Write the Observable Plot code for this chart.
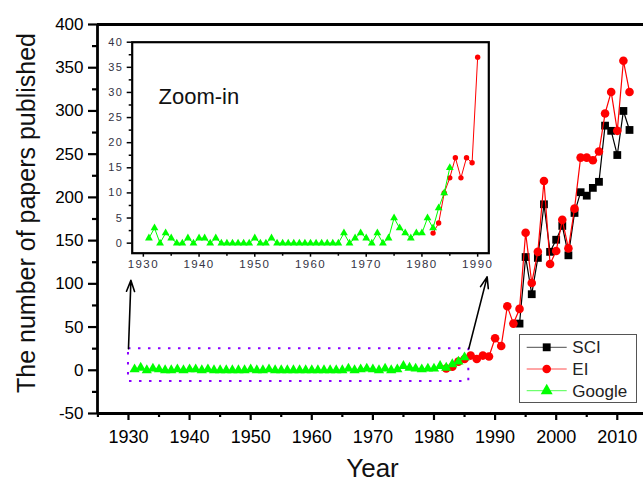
<!DOCTYPE html>
<html><head><meta charset="utf-8">
<script src="https://cdn.jsdelivr.net/npm/d3@7"></script>
<script src="https://cdn.jsdelivr.net/npm/@observablehq/plot@0.6"></script>
<style>
html,body{margin:0;padding:0;background:#fff;overflow:hidden;}
#wrap{position:relative;width:643px;height:483px;overflow:hidden;font-family:"Liberation Sans",Arial,sans-serif;background:#fff;}
#main,#inset,#legend{position:absolute;}
#main{left:0;top:0;}
#inset{left:100px;top:20px;}
#inset text{letter-spacing:1.4px;}
#legend{left:519px;top:334px;}
</style></head><body>
<div id="wrap"><div id="main"></div><div id="inset"></div><div id="legend"></div></div>
<script>
// ---- data ----
const googleStart = 1931;
const googleValues = [1,3,0,2,1,0,0,1,0,1, 1,0,1,0,0,0,0,0,0,1, 0,0,1,0,0,0,0,0,0,0, 0,0,0,0,0,2,0,1,2,1, 0,2,0,1,5,3,2,1,2,2, 5,3,7,10,15];
const eiStart = 1982;
const eiValues = [2,4,10,13,17,13,17,16, 37,28,74,54,71,159,101,137,219,123, 138,174,141,187,246,246,243,253,297,322, 277,358,322];
const sciStart = 1994;
const sciValues = [54,131,88,130,192,137, 151,167,133,182,206,202,211,218,283,277, 249,300,278];
const seriesNames = ["SCI","EI","Google"];
const mainXTicks = [1930,1940,1950,1960,1970,1980,1990,2000,2010];
const mainXMinor = [1925,1935,1945,1955,1965,1975,1985,1995,2005];
const mainYTicks = [-50,0,50,100,150,200,250,300,350,400];
const mainYMinor = [-25,25,75,125,175,225,275,325,375];
const insetXTicks = [1930,1940,1950,1960,1970,1980,1990];
const insetXMinor = [1935,1945,1955,1965,1975,1985];
const insetYTicks = [0,5,10,15,20,25,30,35,40];
const insetYMinor = [2.5,7.5,12.5,17.5,22.5,27.5,32.5,37.5];
const zoomBox = [{x1:1930, x2:1985.7, y1:-13, y2:25}];
const zoomArrows = [{x1:1930, y1:25, x2:1930.4, y2:104}, {x1:1985.7, y1:25, x2:1988.7, y2:108}];
const yTitle = "The number of papers published";
const xTitle = "Year";
const insetTitle = "Zoom-in";

const toRows = (start, vals) => vals.map((v,i) => ({year: start+i, value: v}));
const google = toRows(googleStart, googleValues);
const ei = toRows(eiStart, eiValues);
const sci = toRows(sciStart, sciValues);
const GREEN = "#00ff00", RED = "#ff0000", BLACK = "#000000";
const xDom = [1924.93, 2014.29], yDom = [-50, 400];
const fmt = d => String(d);

const main = Plot.plot({
  width: 643, height: 483,
  marginLeft: 97, marginRight: 0, marginTop: 24, marginBottom: 70,
  x: {domain: xDom}, y: {domain: yDom},
  style: {fontFamily: '"Liberation Sans", Arial, sans-serif', background: "transparent", overflow: "visible"},
  marks: [
    Plot.axisY({ticks: mainYTicks, tickSize: 9, tickPadding: 5, fontSize: 17, tickFormat: fmt, strokeWidth: 2.2, label: null, fill: "#000"}),
    Plot.axisY({ticks: mainYMinor, tickSize: 5, tickFormat: () => "", strokeWidth: 2.2, label: null}),
    Plot.axisX({ticks: mainXTicks, tickSize: 7, tickPadding: 10, fontSize: 18, tickFormat: fmt, strokeWidth: 2.2, label: null, fill: "#000"}),
    Plot.axisX({ticks: mainXMinor, tickSize: 4, tickFormat: () => "", strokeWidth: 2.2, label: null}),
    Plot.ruleX([xDom[0]], {stroke: BLACK, strokeWidth: 2.8}),
    Plot.ruleY([yDom[0], yDom[1]], {stroke: BLACK, strokeWidth: 2.8}),
    Plot.rect(zoomBox, {x1:"x1", x2:"x2", y1:"y1", y2:"y2", fill: "none", stroke: "#8a00ff", strokeWidth: 2, strokeDasharray: "2.5,7.5"}),
    Plot.arrow(zoomArrows, {x1:"x1", y1:"y1", x2:"x2", y2:"y2", stroke: BLACK, strokeWidth: 1.6, headLength: 11, headAngle: 40}),
    Plot.line(sci, {x:"year", y:"value", stroke: BLACK, strokeWidth: 1.2}),
    Plot.dot(sci, {x:"year", y:"value", symbol: "square", r: 4.4, fill: BLACK, stroke: "none"}),
    Plot.line(ei, {x:"year", y:"value", stroke: RED, strokeWidth: 1.2}),
    Plot.dot(ei, {x:"year", y:"value", symbol: "circle", r: 4.3, fill: RED, stroke: "none"}),
    Plot.line(google, {x:"year", y:"value", stroke: GREEN, strokeWidth: 1.2}),
    Plot.dot(google, {x:"year", y:"value", symbol: "triangle", r: 3.8, fill: GREEN, stroke: "none"}),
    Plot.text([yTitle], {frameAnchor: "left", textAnchor: "middle", rotate: -90, dx: -71, dy: -6, fontSize: 25, fill: "#111"}),
    Plot.text([xTitle], {frameAnchor: "bottom", textAnchor: "middle", lineAnchor: "top", dx: 2, dy: 45, fontSize: 26, fill: "#111"})
  ]
});
document.getElementById("main").appendChild(main);

const inset = Plot.plot({
  width: 400, height: 260,
  marginLeft: 31.7, marginRight: 11.7, marginTop: 21.7, marginBottom: 27.3,
  x: {domain: [1928, 1992]}, y: {domain: [-2, 40]},
  style: {fontFamily: '"Liberation Sans", Arial, sans-serif', background: "transparent", overflow: "visible"},
  marks: [
    Plot.axisY({ticks: insetYTicks, tickSize: 5, tickPadding: 4, fontSize: 11, tickFormat: fmt, strokeWidth: 1.5, label: null, fill: "#334"}),
    Plot.axisY({ticks: insetYMinor, tickSize: 3, tickFormat: () => "", strokeWidth: 1.5, label: null}),
    Plot.axisX({ticks: insetXTicks, tickSize: 4, tickPadding: 3, fontSize: 11.5, tickFormat: fmt, strokeWidth: 1.5, label: null, fill: "#334"}),
    Plot.axisX({ticks: insetXMinor, tickSize: 3, tickFormat: () => "", strokeWidth: 1.5, label: null}),
    Plot.frame({stroke: BLACK, strokeWidth: 2.2}),
    Plot.line(ei, {x:"year", y:"value", stroke: RED, strokeWidth: 1, filter: d => d.year <= 1990}),
    Plot.dot(ei, {x:"year", y:"value", symbol: "circle", r: 2.7, fill: RED, stroke: "none", filter: d => d.year <= 1990}),
    Plot.line(google, {x:"year", y:"value", stroke: GREEN, strokeWidth: 1}),
    Plot.dot(google, {x:"year", y:"value", symbol: "triangle", r: 2.9, fill: GREEN, stroke: "none"}),
    Plot.text([insetTitle], {frameAnchor: "top-left", textAnchor: "start", dx: 26.3, dy: 46.3, fontSize: 22, fill: "#111"})
  ]
});
document.getElementById("inset").appendChild(inset);
d3.select(inset).selectAll("text").filter(function() { return this.textContent === insetTitle; })
  .style("letter-spacing", "0px");

// legend
const colors = [BLACK, RED, GREEN];
const symbols = [d3.symbolSquare, d3.symbolCircle, d3.symbolTriangle];
const sizes = [62, 58, 62];
const lg = d3.select("#legend").append("svg").attr("width", 119).attr("height", 70);
lg.append("rect").attr("x", 0.5).attr("y", 0.5).attr("width", 117).attr("height", 68)
  .attr("fill", "#fff").attr("stroke", "#555").attr("stroke-width", 1);
seriesNames.forEach((name, i) => {
  const cy = 13.3 + i * 21.7;
  lg.append("line").attr("x1", 7.7).attr("x2", 47.7).attr("y1", cy).attr("y2", cy)
    .attr("stroke", colors[i]).attr("stroke-width", 1).attr("stroke-opacity", 0.7);
  lg.append("path").attr("d", d3.symbol(symbols[i], sizes[i])()).attr("transform", `translate(27.7,${cy})`).attr("fill", colors[i]);
  lg.append("text").attr("x", 53.3).attr("y", cy).attr("dy", "0.35em").attr("font-size", 17)
    .attr("font-family", '"Liberation Sans", Arial, sans-serif').attr("fill", "#222").text(name);
});
</script>
</body></html>
